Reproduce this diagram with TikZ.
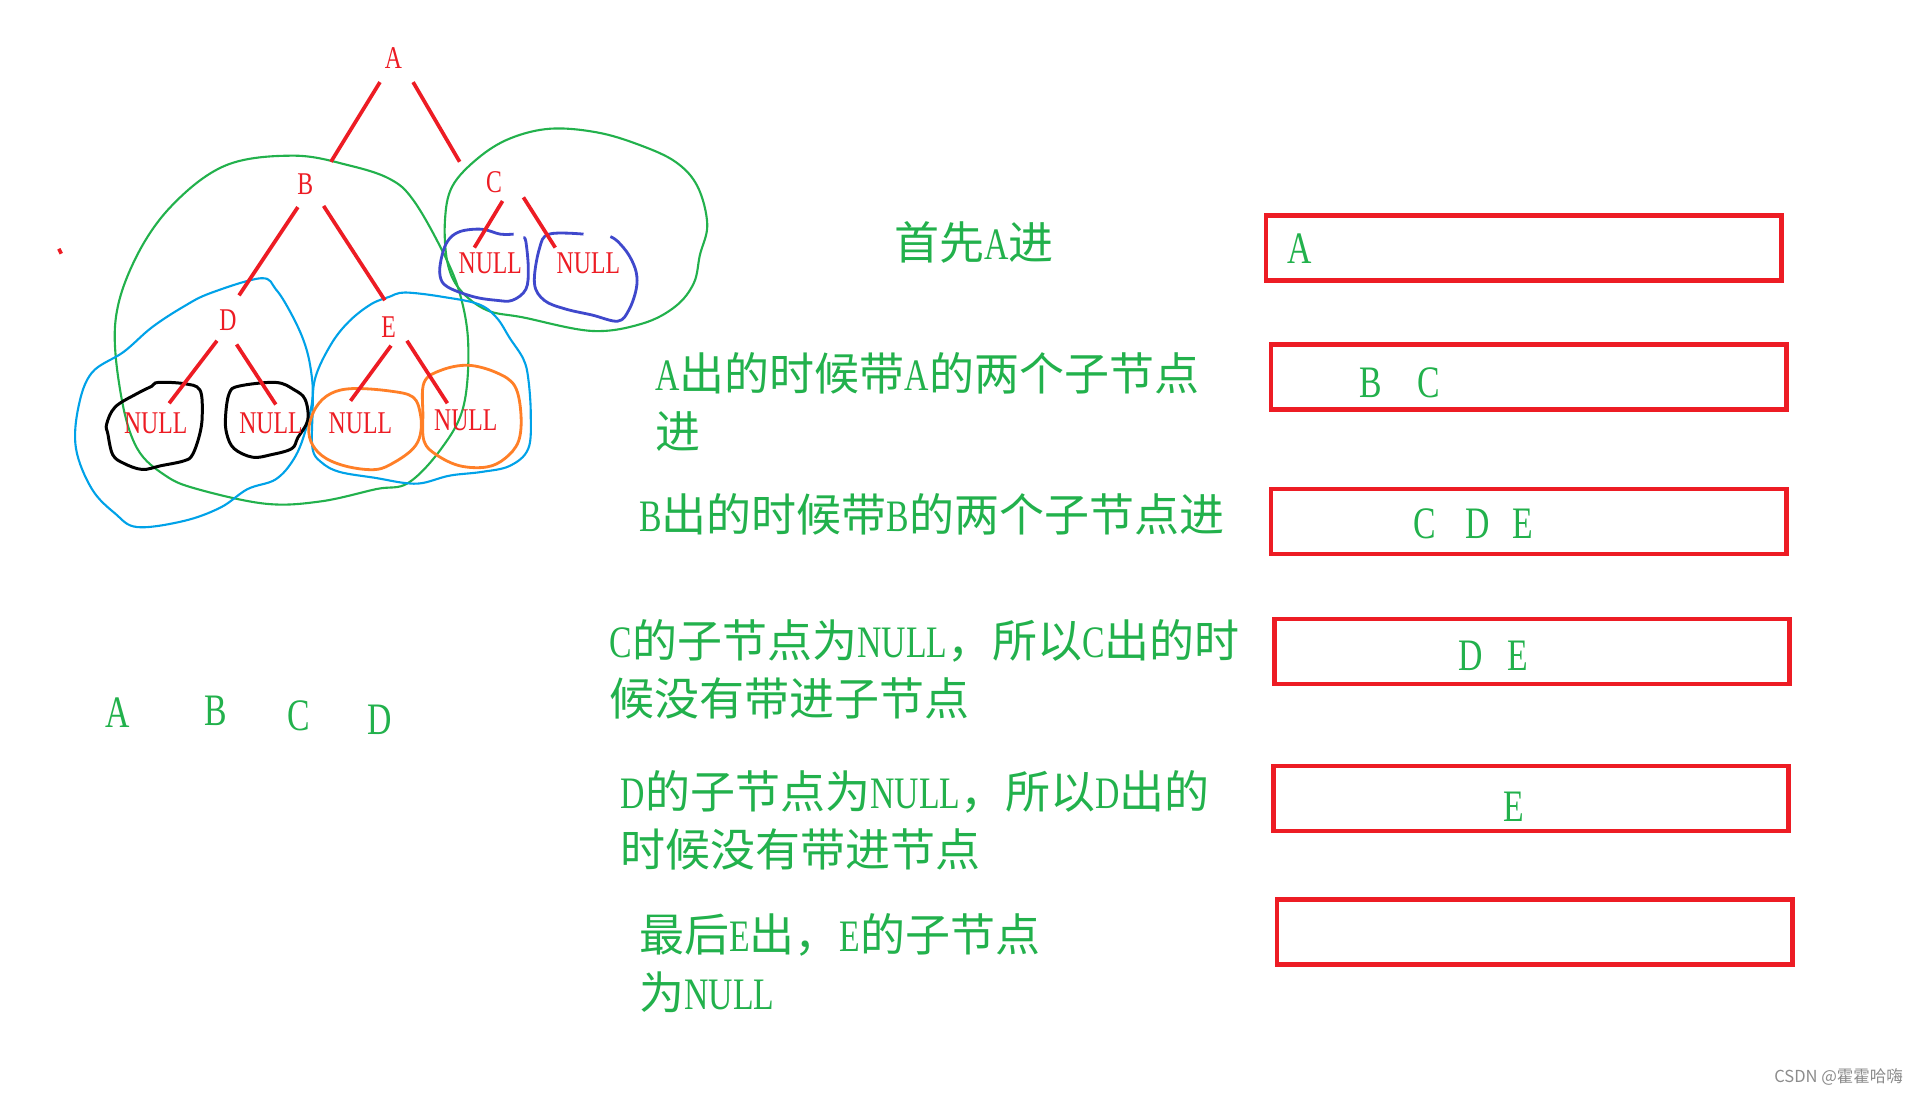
\documentclass[tikz,border=0pt]{standalone}
\usepackage{fontspec}
\setmainfont{Liberation Serif}
\newfontfamily\cjk{Noto Sans CJK SC}
\newfontfamily\lat[FakeStretch=0.75]{Liberation Serif}
\usetikzlibrary{positioning}
\definecolor{pred}{RGB}{237,28,36}
\definecolor{pgreen}{RGB}{34,177,76}
\definecolor{pcyan}{RGB}{0,162,232}
\definecolor{pblue}{RGB}{63,72,204}
\definecolor{porange}{RGB}{255,127,39}

\begin{document}
\begin{tikzpicture}[x=0.01226cm,y=-0.01226cm,
 tnode/.style={text=pred,font=\lat\fontsize{9}{9}\selectfont,inner sep=2.5pt},
 link/.style={draw=pred,line width=1.05pt},
 ring/.style={line width=.6pt,tension=.6},
 say/.style={text=pgreen,font=\cjk\fontsize{12.8}{16.4}\selectfont,inner sep=0pt,anchor=west,align=left},
 qbox/.style={draw=pred,line width=1.35pt,minimum width=5.15cm,minimum height=.65cm,inner sep=0pt},
 qtxt/.style={text=pgreen,font=\lat\fontsize{12.8}{14}\selectfont,inner sep=0pt}]
\path[use as bounding box,fill=white] (0,0) rectangle (1568,893);
% hand drawn rings
\draw[pgreen,ring] plot[smooth cycle] coordinates {(240,127) (184,135) (139,169) (109,214) (94,264) (99,324) (112,366) (135,388) (161,399) (217,411) (262,409) (307,399) (333,394) (360,366) (378,332) (382,281) (375,239) (360,203) (337,163) (318,146) (285,135)};
\draw[pgreen,ring] plot[smooth cycle] coordinates {(449,105) (416,113) (390,129) (369,152) (363,180) (365,214) (375,236) (397,253) (427,259) (483,270) (524,264) (551,250) (566,231) (571,208) (577,183) (569,152) (551,132) (521,118) (487,108)};
\draw[pblue,ring,line width=.8pt] plot[smooth] coordinates {(419,191) (408,191) (393,187) (375,189) (365,197) (360,211) (359,225) (365,234) (386,242) (405,245) (418,245) (429,236) (431,219) (429,197) (427,194)};
\draw[pblue,ring,line width=.8pt] plot[smooth] coordinates {(476,191) (448,191) (440,203) (436,231) (444,245) (461,252) (483,257) (504,262) (513,253) (519,236) (519,222) (513,208) (504,197) (498,193)};
\draw[pcyan,ring] plot[smooth cycle] coordinates {(213,227) (172,239) (150,250) (124,267) (101,287) (75,304) (64,332) (62,366) (75,399) (94,419) (112,430) (150,425) (180,414) (202,399) (225,391) (240,374) (249,352) (255,324) (253,298) (247,276) (236,253) (225,236)};
\draw[pcyan,ring] plot[smooth cycle] coordinates {(326,239) (337,239) (360,242) (390,248) (405,259) (416,276) (427,293) (431,309) (433,338) (431,366) (416,380) (393,385) (367,388) (345,394) (330,394) (307,390) (277,385) (262,377) (255,366) (255,338) (257,309) (270,281) (285,262) (303,248) (318,242)};
\draw[black,ring,line width=.85pt] plot[smooth cycle] coordinates {(129,312) (150,313) (163,318) (165,338) (163,354) (157,371) (150,376) (131,380) (116,383) (101,378) (92,371) (88,354) (87,346) (94,332) (112,321) (124,315)};
\draw[black,ring,line width=.85pt] plot[smooth cycle] coordinates {(195,315) (225,312) (240,318) (249,326) (251,343) (243,357) (238,366) (221,371) (206,373) (191,366) (185,354) (184,340) (187,321)};
\draw[porange,ring,line width=.8pt] plot[smooth cycle] coordinates {(288,317) (318,319) (337,324) (343,338) (343,354) (337,366) (322,377) (307,383) (285,381) (266,374) (255,363) (252,349) (258,332) (270,321)};
\draw[porange,ring,line width=.8pt] plot[smooth cycle] coordinates {(382,298) (405,304) (420,315) (425,338) (423,360) (412,374) (397,381) (375,380) (356,371) (346,360) (345,338) (346,312) (360,302)};
\draw[pred,line width=1pt] (48,203) -- (50,207);
% tree
\node[tnode] (A) at (321,47) {A};
\node[tnode] (B) at (249,150) {B};
\node[tnode] (C) at (403,149) {C};
\node[tnode] (D) at (186,261) {D};
\node[tnode] (E) at (317,267) {E};
\node[tnode] (cl) at (400,215) {NULL};
\node[tnode] (cr) at (480,215) {NULL};
\node[tnode] (dl) at (127,345) {NULL};
\node[tnode] (dr) at (221,345) {NULL};
\node[tnode] (el) at (294,345) {NULL};
\node[tnode] (er) at (380,343) {NULL};
\draw[link] ([shift={(-11,20)}]A.center) -- ([shift={(21,-18)}]B.center);
\draw[link] ([shift={(16,20)}]A.center) -- ([shift={(-28,-17)}]C.center);
\draw[link] ([shift={(-6,19)}]B.center) -- ([shift={(9,-20)}]D.center);
\draw[link] ([shift={(15,18)}]B.center) -- ([shift={(-3,-22)}]E.center);
\draw[link] ([shift={(7,15)}]C.center) -- ([shift={(-13,-13)}]cl.center);
\draw[link] ([shift={(24,12)}]C.center) -- ([shift={(-27,-13)}]cr.center);
\draw[link] ([shift={(-9,17)}]D.center) -- ([shift={(11,-16)}]dl.center);
\draw[link] ([shift={(7,20)}]D.center) -- ([shift={(4,-15)}]dr.center);
\draw[link] ([shift={(2,15)}]E.center) -- ([shift={(-8,-18)}]el.center);
\draw[link] ([shift={(15,11)}]E.center) -- ([shift={(-15,-14)}]er.center);
\foreach \nm/\px/\py in {A/96/581,B/176/580,C/244/584,D/310/587}
  \node[qtxt] (s\nm) at (\px,\py) {\nm};
% steps
\node[say] (t1) at (729,198) {首先{\lat A}进};
\node[say] (t2) at (534,328) {{\lat A}出的时候带{\lat A}的两个子节点\\进};
\node[say] (t3) at (521,420) {{\lat B}出的时候带{\lat B}的两个子节点进};
\node[say] (t4) at (497,546) {{\lat C}的子节点为{\lat NULL}，所以{\lat C}出的时\\候没有带进子节点};
\node[say] (t5) at (506,669) {{\lat D}的子节点为{\lat NULL}，所以{\lat D}出的\\时候没有带进节点};
\node[say] (t6) at (521,786) {最后{\lat E}出，{\lat E}的子节点\\为{\lat NULL}};
% queue states
\node[qbox] (q1) at (1243,202.5) {};
\node[qbox] (q2) at (1247,307.5) {};
\node[qbox] (q3) at (1247,425.5) {};
\node[qbox] (q4) at (1250,531.5) {};
\node[qbox] (q5) at (1249,651.5) {};
\node[qbox] (q6) at (1252,760.5) {};
\node[qtxt] (a1) at (1060,203) {A};
\node[qtxt] (a2) at (1142,312) {B\hspace{10pt}C};
\node[qtxt] (a3) at (1202,427) {C\hspace{8.5pt}D\hspace{6.5pt}E};
\node[qtxt] (a4) at (1218,535) {D\hspace{7pt}E};
\node[qtxt] (a5) at (1235,658) {E};
\node[text=black!45,font=\cjk\fontsize{4.7}{5}\selectfont,inner sep=0pt] (mark) at (1500,879) {CSDN @霍霍哈嗨};
\end{tikzpicture}
\end{document}
